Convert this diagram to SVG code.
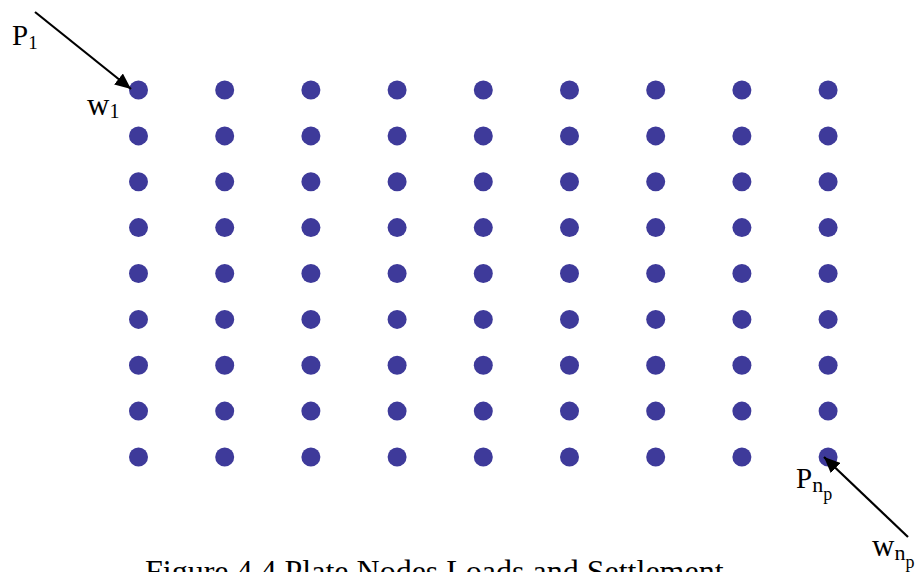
<svg xmlns="http://www.w3.org/2000/svg" width="917" height="572" viewBox="0 0 917 572">
<style>
.n{fill:#3e3a9a}
.t{font-family:"Liberation Serif","Times New Roman",serif;fill:#000}
.c{stroke:#000;stroke-width:2.2;fill:none}
</style>
<defs>
<marker id="ah" markerUnits="userSpaceOnUse" markerWidth="18" markerHeight="14" refX="16" refY="7" orient="auto">
<path d="M0,0 L16,7 L0,14 Z" fill="#000"/>
</marker>
<circle id="d" r="9.5" class="n"/>
</defs>
<rect width="917" height="572" fill="#fff"/>
<g id="nodes">
<g id="row1"><use href="#d" x="138.5" y="90"/><use href="#d" x="224.7" y="90"/><use href="#d" x="310.9" y="90"/><use href="#d" x="397.1" y="90"/><use href="#d" x="483.3" y="90"/><use href="#d" x="569.5" y="90"/><use href="#d" x="655.7" y="90"/><use href="#d" x="741.9" y="90"/><use href="#d" x="828.1" y="90"/></g>
<g id="row2"><use href="#d" x="138.5" y="135.9"/><use href="#d" x="224.7" y="135.9"/><use href="#d" x="310.9" y="135.9"/><use href="#d" x="397.1" y="135.9"/><use href="#d" x="483.3" y="135.9"/><use href="#d" x="569.5" y="135.9"/><use href="#d" x="655.7" y="135.9"/><use href="#d" x="741.9" y="135.9"/><use href="#d" x="828.1" y="135.9"/></g>
<g id="row3"><use href="#d" x="138.5" y="181.8"/><use href="#d" x="224.7" y="181.8"/><use href="#d" x="310.9" y="181.8"/><use href="#d" x="397.1" y="181.8"/><use href="#d" x="483.3" y="181.8"/><use href="#d" x="569.5" y="181.8"/><use href="#d" x="655.7" y="181.8"/><use href="#d" x="741.9" y="181.8"/><use href="#d" x="828.1" y="181.8"/></g>
<g id="row4"><use href="#d" x="138.5" y="227.6"/><use href="#d" x="224.7" y="227.6"/><use href="#d" x="310.9" y="227.6"/><use href="#d" x="397.1" y="227.6"/><use href="#d" x="483.3" y="227.6"/><use href="#d" x="569.5" y="227.6"/><use href="#d" x="655.7" y="227.6"/><use href="#d" x="741.9" y="227.6"/><use href="#d" x="828.1" y="227.6"/></g>
<g id="row5"><use href="#d" x="138.5" y="273.5"/><use href="#d" x="224.7" y="273.5"/><use href="#d" x="310.9" y="273.5"/><use href="#d" x="397.1" y="273.5"/><use href="#d" x="483.3" y="273.5"/><use href="#d" x="569.5" y="273.5"/><use href="#d" x="655.7" y="273.5"/><use href="#d" x="741.9" y="273.5"/><use href="#d" x="828.1" y="273.5"/></g>
<g id="row6"><use href="#d" x="138.5" y="319.4"/><use href="#d" x="224.7" y="319.4"/><use href="#d" x="310.9" y="319.4"/><use href="#d" x="397.1" y="319.4"/><use href="#d" x="483.3" y="319.4"/><use href="#d" x="569.5" y="319.4"/><use href="#d" x="655.7" y="319.4"/><use href="#d" x="741.9" y="319.4"/><use href="#d" x="828.1" y="319.4"/></g>
<g id="row7"><use href="#d" x="138.5" y="365.3"/><use href="#d" x="224.7" y="365.3"/><use href="#d" x="310.9" y="365.3"/><use href="#d" x="397.1" y="365.3"/><use href="#d" x="483.3" y="365.3"/><use href="#d" x="569.5" y="365.3"/><use href="#d" x="655.7" y="365.3"/><use href="#d" x="741.9" y="365.3"/><use href="#d" x="828.1" y="365.3"/></g>
<g id="row8"><use href="#d" x="138.5" y="411.1"/><use href="#d" x="224.7" y="411.1"/><use href="#d" x="310.9" y="411.1"/><use href="#d" x="397.1" y="411.1"/><use href="#d" x="483.3" y="411.1"/><use href="#d" x="569.5" y="411.1"/><use href="#d" x="655.7" y="411.1"/><use href="#d" x="741.9" y="411.1"/><use href="#d" x="828.1" y="411.1"/></g>
<g id="row9"><use href="#d" x="138.5" y="457"/><use href="#d" x="224.7" y="457"/><use href="#d" x="310.9" y="457"/><use href="#d" x="397.1" y="457"/><use href="#d" x="483.3" y="457"/><use href="#d" x="569.5" y="457"/><use href="#d" x="655.7" y="457"/><use href="#d" x="741.9" y="457"/><use href="#d" x="828.1" y="457"/></g>
</g>
<g id="connectors">
<line class="c" x1="35" y1="12" x2="131" y2="89" marker-end="url(#ah)"/>
<line class="c" x1="908" y1="537" x2="824" y2="457" marker-end="url(#ah)"/>
</g>
<g id="labels">
<text class="t" x="12" y="45" font-size="29">P<tspan font-size="19" dy="4">1</tspan></text>
<text class="t" x="87" y="115" font-size="31">w<tspan font-size="20" dy="3">1</tspan></text>
<text class="t" x="796" y="488" font-size="29">P<tspan font-size="22" dy="4">n</tspan><tspan font-size="18" dy="8">p</tspan></text>
<text class="t" x="872" y="556" font-size="31">w<tspan font-size="22" dy="4">n</tspan><tspan font-size="18" dy="8">p</tspan></text>
<text class="t" x="145" y="582" font-size="32">Figure 4.4 Plate Nodes Loads and Settlement</text>
</g>
</svg>
